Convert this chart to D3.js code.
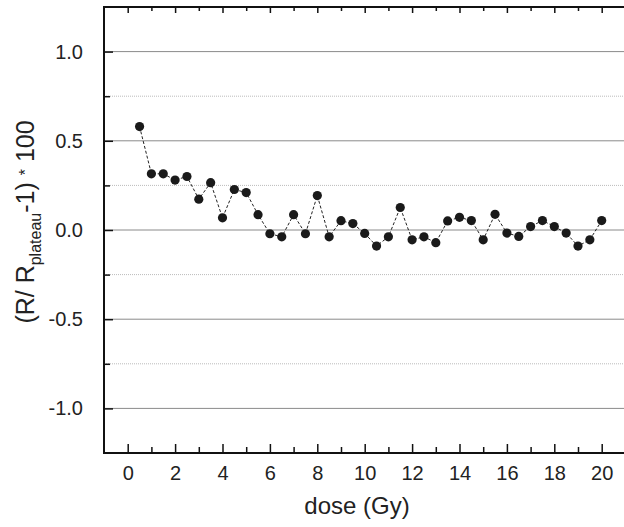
<!DOCTYPE html>
<html>
<head>
<meta charset="utf-8">
<script src="https://cdn.jsdelivr.net/npm/d3@7"></script>
<style>
  body { margin: 0; background: #fff; }
  text { font-family: "Liberation Sans", Arial, sans-serif; fill: #222; }
</style>
</head>
<body>
<svg id="chart" width="624" height="527"></svg>
<script>
// dose in Gy
var doses = [0.5, 1, 1.5, 2, 2.5, 3, 3.5, 4, 4.5, 5, 5.5, 6, 6.5, 7, 7.5, 8, 8.5, 9, 9.5, 10,
             10.5, 11, 11.5, 12, 12.5, 13, 13.5, 14, 14.5, 15, 15.5, 16, 16.5, 17, 17.5, 18, 18.5, 19, 19.5, 20];
var values = [0.58, 0.315, 0.315, 0.28, 0.30, 0.173, 0.265, 0.068, 0.227, 0.21,
              0.086, -0.021, -0.038, 0.086, -0.021, 0.193, -0.038, 0.052, 0.036, -0.019,
              -0.09, -0.038, 0.126, -0.055, -0.038, -0.071, 0.051, 0.071, 0.053, -0.055,
              0.088, -0.017, -0.036, 0.019, 0.053, 0.019, -0.017, -0.09, -0.055, 0.053];
var xTicks = [0, 2, 4, 6, 8, 10, 12, 14, 16, 18, 20];
var xMinor = [1, 3, 5, 7, 9, 11, 13, 15, 17, 19];
var yTicks = [-1.0, -0.5, 0.0, 0.5, 1.0];
var yMinor = [-0.75, -0.25, 0.25, 0.75];

var svg = d3.select("#chart");
var plotLeft = 104, plotTop = 7, plotBottom = 453;

var x = d3.scaleLinear().domain([-1, 21]).range([plotLeft, plotLeft + 22 * 23.7]);
var y = d3.scaleLinear().domain([-1.25, 1.25]).range([plotBottom, plotTop]);

var data = doses.map(function (d, i) { return { dose: d, v: values[i] }; });

// grid
var grid = svg.append("g");
grid.selectAll("line.major").data(yTicks).enter().append("line")
    .attr("x1", plotLeft).attr("x2", 624)
    .attr("y1", function (d) { return y(d); }).attr("y2", function (d) { return y(d); })
    .attr("stroke", "#8a8a8a").attr("stroke-width", 1);
grid.selectAll("line.minor").data(yMinor).enter().append("line")
    .attr("x1", plotLeft).attr("x2", 624)
    .attr("y1", function (d) { return y(d); }).attr("y2", function (d) { return y(d); })
    .attr("stroke", "#bbb").attr("stroke-width", 1).attr("stroke-dasharray", "1,1");

// axes
var fmt = function (d) { return d3.format(".1f")(d).replace("\u2212", "-"); };
var yAxis = d3.axisLeft(y).tickValues(yTicks).tickSize(-9).tickPadding(21).tickFormat(fmt);
var yAxisMinor = d3.axisLeft(y).tickValues(yMinor).tickSize(-6).tickFormat("");
var xAxis = d3.axisBottom(x).tickValues(xTicks).tickSize(-9).tickPadding(13);
var xAxisMinor = d3.axisBottom(x).tickValues(xMinor).tickSize(-6).tickFormat("");
var xTop = d3.axisTop(x).tickValues(xTicks).tickSize(-6).tickFormat("");
var xTopMinor = d3.axisTop(x).tickValues(xMinor).tickSize(-4).tickFormat("");

function styleAxis(g) {
    g.select(".domain").remove();
    g.selectAll(".tick line").attr("stroke", "#111").attr("stroke-width", 1.5);
    g.selectAll(".tick text").attr("font-size", 20).attr("fill", "#222")
        .attr("font-family", "'Liberation Sans', Arial, sans-serif");
}

svg.append("g").attr("transform", "translate(" + plotLeft + ",0)").call(yAxis).call(styleAxis);
svg.append("g").attr("transform", "translate(" + plotLeft + ",0)").call(yAxisMinor).call(styleAxis);
svg.append("g").attr("transform", "translate(0," + plotBottom + ")").call(xAxis).call(styleAxis);
svg.append("g").attr("transform", "translate(0," + plotBottom + ")").call(xAxisMinor).call(styleAxis);
svg.append("g").attr("transform", "translate(0," + plotTop + ")").call(xTop).call(styleAxis);
svg.append("g").attr("transform", "translate(0," + plotTop + ")").call(xTopMinor).call(styleAxis);

// frame (left, bottom, top; right side runs past the edge)
svg.append("path")
    .attr("d", "M624," + plotTop + "H" + plotLeft + "V" + plotBottom + "H624")
    .attr("fill", "none").attr("stroke", "#111").attr("stroke-width", 2);

// data
var line = d3.line().x(function (d) { return x(d.dose); }).y(function (d) { return y(d.v); });
svg.append("path").datum(data).attr("d", line)
    .attr("fill", "none").attr("stroke", "#222").attr("stroke-width", 1)
    .attr("stroke-dasharray", "3,2");
svg.selectAll("circle.pt").data(data).enter().append("circle")
    .attr("cx", function (d) { return x(d.dose); })
    .attr("cy", function (d) { return y(d.v); })
    .attr("r", 4.6).attr("fill", "#1a1a1a");

// titles
svg.append("text").attr("x", 357).attr("y", 514).attr("text-anchor", "middle")
    .attr("font-size", 24).text("dose (Gy)");

var yl = svg.append("text").attr("transform", "translate(34,222) rotate(-90)")
    .attr("text-anchor", "middle").attr("font-size", 25);
yl.append("tspan").text("(R/ R");
yl.append("tspan").attr("font-size", 16).attr("dy", 7).text("plateau");
yl.append("tspan").attr("dy", -7).text("-1) ");
yl.append("tspan").attr("font-size", 16).attr("dy", -3).text("*");
yl.append("tspan").attr("dy", 3).text(" 100");
</script>
</body>
</html>
